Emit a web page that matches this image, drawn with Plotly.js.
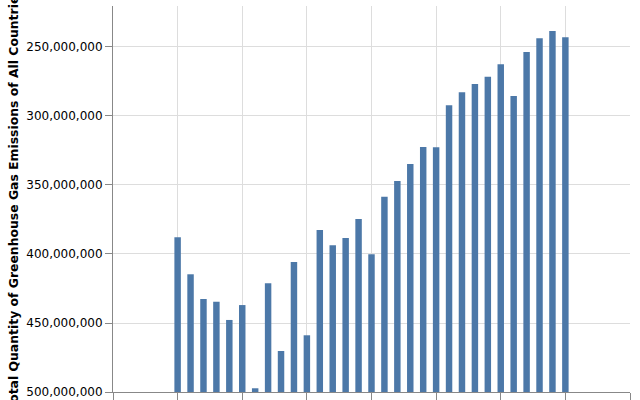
<!DOCTYPE html>
<html>
<head>
<meta charset="utf-8">
<script src="https://cdn.plot.ly/plotly-3.0.1.min.js"></script>
<style>html,body{margin:0;padding:0;background:#fff;}#chart{width:640px;height:400px;}</style>
</head>
<body>
<div id="chart"></div>
<script>
const years = [1990,1991,1992,1993,1994,1995,1996,1997,1998,1999,2000,2001,2002,2003,2004,2005,2006,2007,2008,2009,2010,2011,2012,2013,2014,2015,2016,2017,2018,2019,2020];
const emissions = [387.9e6,414.7e6,432.6e6,434.6e6,447.8e6,437.0e6,497.3e6,421.2e6,470.3e6,405.8e6,458.9e6,382.6e6,393.7e6,388.4e6,374.6e6,400.2e6,358.5e6,347.1e6,334.8e6,322.5e6,322.7e6,292.3e6,282.8e6,276.8e6,271.5e6,262.5e6,285.5e6,253.6e6,243.7e6,238.4e6,243.0e6];
const yTicks = [250e6,300e6,350e6,400e6,450e6,500e6];
const xTicks = [1985,1990,1995,2000,2005,2010,2015,2020,2025];
const baseline = 500e6;

const trace = {
  type: 'bar',
  x: years,
  y: emissions.map(v => v - baseline),
  base: emissions.map(() => baseline),
  width: 0.5,
  marker: {color: '#4c78a8'},
  hoverinfo: 'skip'
};

const layout = {
  width: 640, height: 400,
  margin: {l: 113, r: 10, t: 6, b: 8},
  paper_bgcolor: '#fff', plot_bgcolor: '#fff',
  font: {family: 'DejaVu Sans', size: 12, color: '#000'},
  showlegend: false,
  xaxis: {
    range: [1985, 2025],
    tickvals: xTicks,
    showticklabels: false,
    ticks: 'outside', ticklen: 7, tickcolor: '#888', tickwidth: 1,
    showline: true, linecolor: '#888', linewidth: 1,
    showgrid: true, gridcolor: '#ddd', gridwidth: 1,
    zeroline: false
  },
  yaxis: {
    range: [baseline, 220.3e6],
    tickvals: yTicks,
    tickformat: ',d',
    ticks: 'outside', ticklen: 7, tickcolor: '#888', tickwidth: 1,
    tickfont: {family: 'DejaVu Sans', size: 12, color: '#000'},
    showline: true, linecolor: '#888', linewidth: 1,
    showgrid: true, gridcolor: '#ddd', gridwidth: 1,
    zeroline: false,
    title: {text: 'Total Quantity of Greenhouse Gas Emissions of All Countries',
            font: {family: 'DejaVu Sans', size: 12.4, color: '#000', weight: 'bold'},
            standoff: 4}
  }
};

Plotly.newPlot('chart', [trace], layout, {displayModeBar: false, staticPlot: true});
</script>
</body>
</html>
